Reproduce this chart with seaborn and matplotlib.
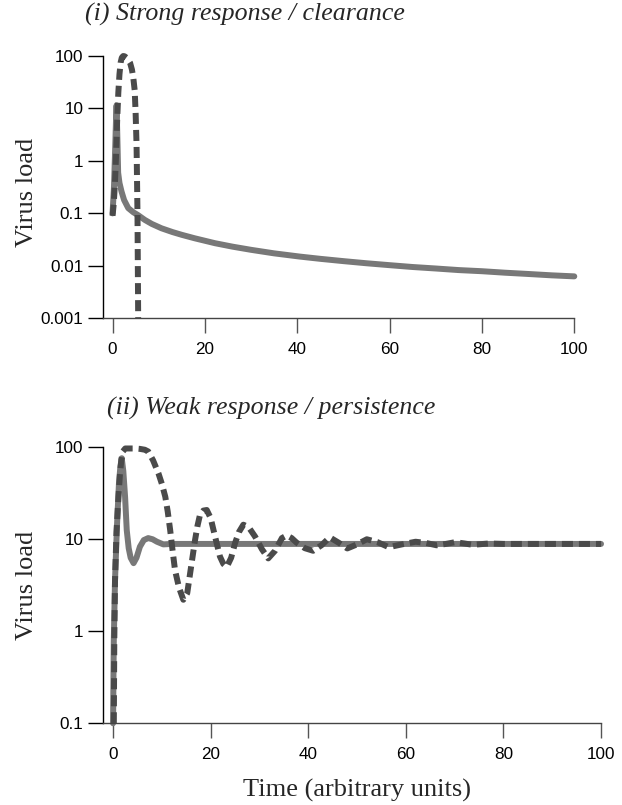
import matplotlib
matplotlib.use("Agg")
import matplotlib.pyplot as plt
from matplotlib.ticker import NullLocator
import seaborn as sns
import pandas as pd

# (i) strong response / clearance
t_strong_solid = [0, 0.3, 0.55, 0.75, 0.87, 0.97, 1.08, 1.21, 1.5, 1.95, 2.5, 3.4, 4.5, 5.5, 7, 8.5,
                  10.6, 13, 15, 17.8, 22.2, 26, 30, 35, 40.6, 45, 50, 55, 60, 65, 70, 75, 80, 85,
                  90, 95, 100]
v_strong_solid = [0.1, 0.3, 1.5, 6, 11.5, 5, 2, 0.6, 0.38, 0.26, 0.18, 0.126, 0.105, 0.093, 0.075,
                  0.063, 0.052, 0.044, 0.039, 0.0335, 0.027, 0.0232, 0.0202, 0.0173, 0.015, 0.0136,
                  0.0123, 0.0112, 0.0103, 0.0095, 0.0089, 0.0083, 0.0079, 0.0074, 0.007, 0.0066,
                  0.0063]
t_strong_dash = [0, 0.25, 0.5, 0.75, 1.0, 1.25, 1.5, 1.75, 2.0, 2.3, 2.6, 3.0, 3.4, 3.8, 4.2, 4.5,
                 4.8, 5.0, 5.2, 5.4, 5.55]
v_strong_dash = [0.09, 0.15, 0.35, 1.2, 6, 20, 45, 75, 93, 100, 99, 93, 84, 74, 55, 38, 22, 8, 2,
                 0.1, 0.001]

# (ii) weak response / persistence
t_weak_solid = [0, 0.15, 0.4, 0.8, 1.2, 1.5, 1.78, 2.1, 2.46, 2.8, 3.2, 3.6, 4.2, 4.8, 5.5, 6.3,
                7.2, 8.1, 9.0, 10.3, 12, 15, 20, 30, 40, 50, 60, 70, 80, 90, 100]
v_weak_solid = [0.1, 0.8, 3.6, 14, 40, 62, 76, 55, 29, 12.6, 8, 6.3, 5.5, 6.3, 8.3, 9.8, 10.3, 10,
                9.4, 8.8, 8.9, 8.9, 8.9, 8.9, 8.9, 8.9, 8.9, 8.9, 8.9, 8.9, 8.9]
t_weak_dash = [0.15, 0.25, 0.4, 0.7, 1.1, 1.4, 1.7, 2.0, 2.5, 3.5, 4.5, 5.5, 6.5, 7.2, 8.2, 9.3,
               10.0, 10.7, 11.2, 11.7, 12.2, 12.7, 13.5, 14.4, 15.2, 15.8, 16.3, 16.8, 17.3, 17.8,
               18.5, 19.2, 20.0, 20.9, 21.9, 22.6, 23.3, 24.2, 25.0, 25.8, 26.7, 27.8, 29.1, 30.5,
               31.8, 33.2, 34.6, 35.6, 36.6, 37.6, 39.3, 41.0, 42.7, 44.4, 46.2, 48.0, 50.0, 52.0,
               54.2, 56.5, 59.2, 62.0, 64.2, 66.3, 68.2, 70.1, 72.0, 73.7, 77.0, 80, 85, 90, 95,
               100]
v_weak_dash = [0.1, 0.8, 3.6, 12, 29, 50, 73, 90, 97, 97, 97, 96, 94, 90, 72, 52, 40, 29, 20,
               12.6, 7.5, 4.6, 3.0, 2.2, 2.6, 4.3, 6.5, 9.8, 14, 18.3, 20.5, 20.8, 17, 10.7, 6.5,
               5.4, 5.0, 6.3, 9.1, 12, 14.4, 13.5, 10.7, 7.8, 6.2, 7.5, 10.3, 11.0, 10.3, 9.2, 8.0,
               7.5, 8.6, 10.5, 9.2, 7.95, 8.8, 10.0, 9.3, 8.2, 8.8, 9.4, 9.1, 8.6, 8.9, 9.3, 9.0,
               8.7, 9.0, 8.9, 8.9, 8.9, 8.9, 8.9]

x_ticks = [0, 20, 40, 60, 80, 100]
y_ticks_top = [0.001, 0.01, 0.1, 1, 10, 100]
y_labels_top = ["0.001", "0.01", "0.1", "1", "10", "100"]
y_ticks_bottom = [0.1, 1, 10, 100]
y_labels_bottom = ["0.1", "1", "10", "100"]

sns.set_style("ticks")
plt.rcParams["font.family"] = ["Liberation Sans", "DejaVu Sans"]

SOLID = "#787878"
DASH = "#4a4a4a"
LW = 4.3

fig = plt.figure(figsize=(6.22, 8.05), dpi=100)
ax1 = fig.add_axes([0.1661, 0.6046, 0.7572, 0.3258])
ax2 = fig.add_axes([0.1661, 0.1015, 0.8002, 0.3429])


def draw(ax, ts, vs, td, vd, yticks, ylabels, ylim):
    sol = pd.DataFrame({"t": ts, "v": vs})
    das = pd.DataFrame({"t": td, "v": vd})
    sns.lineplot(data=sol, x="t", y="v", ax=ax, color=SOLID, lw=LW, sort=False,
                 estimator=None, clip_on=False, zorder=2)
    sns.lineplot(data=das, x="t", y="v", ax=ax, color=DASH, lw=LW, sort=False,
                 estimator=None, clip_on=False, zorder=3, linestyle=(0, (1.85, 1.0)),
                 dash_capstyle="butt")
    ax.set_yscale("log")
    ax.set_xlim(-2, 100)
    ax.set_ylim(*ylim)
    ax.set_xticks(x_ticks)
    ax.set_yticks(yticks)
    ax.set_yticklabels(ylabels)
    ax.yaxis.set_minor_locator(NullLocator())
    ax.set_xlabel("")
    ax.set_ylabel("")
    sns.despine(ax=ax)
    ax.spines["left"].set_color("black")
    ax.spines["bottom"].set_color("#444444")
    ax.spines["left"].set_linewidth(1.0)
    ax.spines["bottom"].set_linewidth(1.0)
    ax.tick_params(axis="y", length=11, width=1.0, color="black", pad=3.4, labelsize=12.3,
                   labelcolor="black")
    ax.tick_params(axis="x", length=10.5, width=1.0, color="#555555", pad=6.5, labelsize=12.3,
                   labelcolor="black")


draw(ax1, t_strong_solid, v_strong_solid, t_strong_dash, v_strong_dash,
     y_ticks_top, y_labels_top, (0.001, 100))
draw(ax2, t_weak_solid, v_weak_solid, t_weak_dash, v_weak_dash,
     y_ticks_bottom, y_labels_bottom, (0.1, 100))

serif = ["Liberation Serif", "DejaVu Serif"]
fig.text(85 / 622, 1 - 21 / 805, "(i) Strong response / clearance", family=serif,
         style="italic", fontsize=18.6, ha="left", va="baseline")
fig.text(107 / 622, 1 - 415 / 805, "(ii) Weak response / persistence", family=serif,
         style="italic", fontsize=18.6, ha="left", va="baseline")
fig.text(27 / 622, 1 - 192 / 805, "Virus load", family=serif, fontsize=19,
         rotation=90, ha="center", va="center")
fig.text(27 / 622, 1 - 585 / 805, "Virus load", family=serif, fontsize=19,
         rotation=90, ha="center", va="center")
fig.text(357 / 622, 1 - 797 / 805, "Time (arbitrary units)", family=serif, fontsize=19,
         ha="center", va="baseline")

fig.savefig("out.png", dpi=100)
